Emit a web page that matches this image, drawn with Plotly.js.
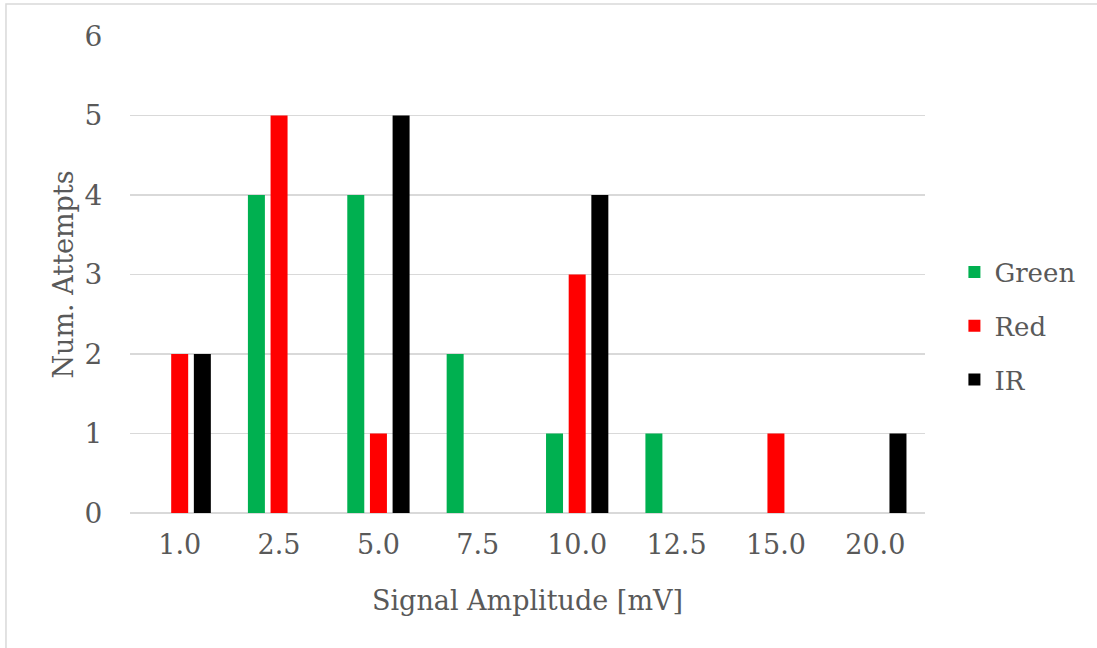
<!DOCTYPE html>
<html>
<head>
<meta charset="utf-8">
<script src="https://cdn.plot.ly/plotly-3.0.1.min.js"></script>
<style>html,body{margin:0;padding:0;background:#fff;}#chart{width:1097px;height:648px;}</style>
</head>
<body>
<div id="chart"></div>
<script>
const categories = ["1.0", "2.5", "5.0", "7.5", "10.0", "12.5", "15.0", "20.0"];
const greenValues = [0, 4, 4, 2, 1, 1, 0, 0];
const redValues = [2, 5, 1, 0, 3, 0, 1, 0];
const irValues = [2, 0, 5, 0, 4, 0, 0, 1];
const seriesNames = ["Green", "Red", "IR"];
const seriesColors = ["#00B050", "#FF0000", "#000000"];

const FONT = "DejaVu Serif, Liberation Serif, serif";
const TXT = "#595959";

const data = [greenValues, redValues, irValues].map((vals, i) => ({
  type: "bar",
  name: seriesNames[i],
  x: categories,
  y: vals,
  marker: {color: seriesColors[i]},
  legendgroup: "g" + i,
  hoverinfo: "x+y+name"
}));

const layout = {
  width: 1097,
  height: 648,
  margin: {l: 130, r: 172, t: 36, b: 135},
  paper_bgcolor: "#ffffff",
  plot_bgcolor: "#ffffff",
  barmode: "group",
  bargap: 0.316,
  bargroupgap: 0.25,
  font: {family: FONT, color: TXT, size: 26},
  xaxis: {
    type: "category",
    showgrid: false,
    showline: false,
    zeroline: false,
    ticks: "outside",
    ticklen: 8,
    tickcolor: "rgba(0,0,0,0)",
    tickfont: {family: FONT, color: TXT, size: 27},
    title: {text: "Signal Amplitude [mV]", font: {family: FONT, color: TXT, size: 27}, standoff: 31}
  },
  yaxis: {
    range: [0, 6],
    dtick: 1,
    showgrid: true,
    gridcolor: "#D9D9D9",
    gridwidth: 1.5,
    zeroline: true,
    zerolinecolor: "#D9D9D9",
    zerolinewidth: 1.5,
    showline: false,
    ticks: "outside",
    ticklen: 21,
    tickcolor: "rgba(0,0,0,0)",
    tickfont: {family: FONT, color: TXT, size: 28},
    title: {text: "Num. Attempts", font: {family: FONT, color: TXT, size: 27}, standoff: 3}
  },
  showlegend: true,
  legend: {
    x: 1.037,
    xanchor: "left",
    y: 0.392,
    yanchor: "middle",
    font: {family: FONT, color: TXT, size: 26},
    tracegroupgap: 17,
    itemwidth: 30,
    bgcolor: "rgba(0,0,0,0)"
  },
  shapes: [
    {type: "rect", xref: "paper", yref: "paper", x0: -0.156, x1: 1.3, y0: -0.4, y1: 1.067,
     line: {color: "#D9D9D9", width: 1.5}, fillcolor: "rgba(0,0,0,0)", layer: "below"}
  ]
};

Plotly.newPlot("chart", data, layout, {displayModeBar: false, staticPlot: true});
</script>
</body>
</html>
